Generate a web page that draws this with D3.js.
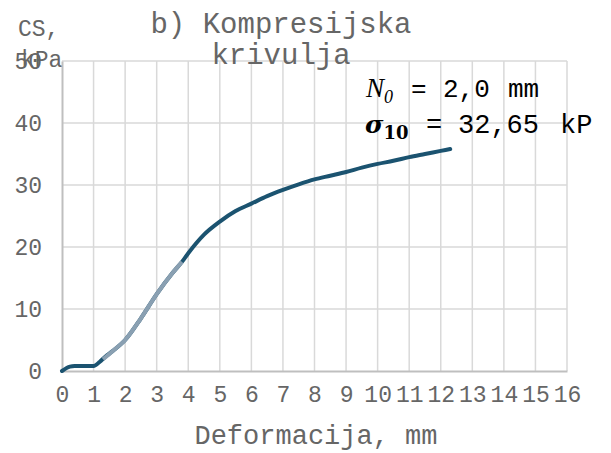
<!DOCTYPE html>
<html><head><meta charset="utf-8">
<script src="https://cdn.jsdelivr.net/npm/d3@7"></script>
<style>
body{margin:0;background:#fff;}
svg{display:block;}
</style></head>
<body>
<svg id="c" width="611" height="453"></svg>
<script>
// Data
const curveX = [0,0.25,0.4,1.0,1.2,1.37,1.6,2.0,2.5,3.0,3.5,3.8,4.0,4.5,5,5.5,6,6.5,7,7.5,8,8.5,9,9.5,10,10.5,11,11.5,12,12.3];
const curveY = [0,0.7,0.8,0.8,1.5,2.3,3.2,5.0,8.5,12.4,15.8,17.6,19.0,22.0,24.1,25.8,27.0,28.2,29.2,30.1,30.9,31.5,32.1,32.8,33.4,33.9,34.5,35.0,35.5,35.8];
const segX = [1.3,1.6,2.0,2.5,3.0,3.5,3.8];
const segY = [1.9,3.2,5.0,8.5,12.4,15.8,17.6];
const xTicks = [0,1,2,3,4,5,6,7,8,9,10,11,12,13,14,15,16];
const yTicks = [0,10,20,30,40,50];
const titleLines = ["b) Kompresijska","krivulja"];
const xTitle = "Deformacija, mm";
const yTitleLines = ["CS,","kPa"];

const svg = d3.select("#c");
const L=62,R=567,T=61,B=371;
const x = d3.scaleLinear().domain([0,16]).range([L,R]);
const y = d3.scaleLinear().domain([0,50]).range([B,T]);
const mono = "'Liberation Mono','Courier New',monospace";
const txt = "#666666";

// grid
svg.append("g").selectAll("line").data(xTicks.filter(d=>d>0)).join("line")
  .attr("x1",d=>x(d)).attr("x2",d=>x(d)).attr("y1",T).attr("y2",B)
  .attr("stroke","#d9d9d9").attr("stroke-width",1.5);
svg.append("g").selectAll("line").data(yTicks.filter(d=>d>0)).join("line")
  .attr("x1",L).attr("x2",R).attr("y1",d=>y(d)).attr("y2",d=>y(d))
  .attr("stroke","#d9d9d9").attr("stroke-width",1.5);

// axes
const xAxis = svg.append("g").attr("transform",`translate(0,${B})`)
  .call(d3.axisBottom(x).tickValues(xTicks).tickSize(0).tickPadding(15));
const yAxis = svg.append("g").attr("transform",`translate(${L},0)`)
  .call(d3.axisLeft(y).tickValues(yTicks).tickSize(0).tickPadding(20));
[xAxis,yAxis].forEach(a=>{
  a.select(".domain").attr("stroke","#bfbfbf").attr("stroke-width",2);
  a.selectAll("text").attr("font-family",mono).attr("font-size",23).attr("fill",txt);
});

// lines
const line = d3.line().x(d=>x(d[0])).y(d=>y(d[1])).curve(d3.curveMonotoneX);
svg.append("path").datum(curveX.map((v,i)=>[v,curveY[i]]))
  .attr("d",line).attr("fill","none").attr("stroke","#1b5370").attr("stroke-width",4).attr("stroke-linecap","round");
svg.append("path").datum(segX.map((v,i)=>[v,segY[i]]))
  .attr("d",line).attr("fill","none").attr("stroke","#8aa0b2").attr("stroke-width",4);

// titles
svg.append("g").selectAll("text").data(titleLines).join("text")
  .attr("x",281).attr("y",(d,i)=>33+i*31).attr("text-anchor","middle")
  .attr("font-family",mono).attr("font-size",29).attr("fill",txt).text(d=>d);
svg.append("text").attr("x",316).attr("y",444).attr("text-anchor","middle")
  .attr("font-family",mono).attr("font-size",27).attr("fill",txt).text(xTitle);
svg.append("g").selectAll("text").data(yTitleLines).join("text")
  .attr("x",[18,21]).attr("x",(d,i)=>i?21:18).attr("y",(d,i)=>36+i*31)
  .attr("font-family",mono).attr("font-size",23).attr("fill",txt).text(d=>d);

// annotation
const ann = svg.append("g").attr("fill","#000");
const serif = "'DejaVu Serif','Liberation Serif',serif";
ann.append("text").attr("x",366).attr("y",97).attr("font-family","'Liberation Serif',serif")
  .attr("font-style","italic").attr("font-size",27).text("N")
  .append("tspan").attr("font-size",18).attr("dy",6).text("0");
ann.append("text").attr("x",411).attr("y",97).attr("font-family",mono).attr("font-size",26).text("=");
ann.append("text").attr("x",443).attr("y",97).attr("font-family",mono).attr("font-size",26).text("2,0");
ann.append("text").attr("x",508).attr("y",97).attr("font-family",mono).attr("font-size",26).text("mm");
ann.append("text").attr("x",365).attr("y",133).attr("font-family",serif)
  .attr("font-style","italic").attr("font-weight","bold").attr("font-size",25).text("σ")
  .append("tspan").attr("font-style","normal").attr("font-size",18).attr("dy",6).text("10");
ann.append("text").attr("x",426).attr("y",133).attr("font-family",mono).attr("font-size",27).text("=");
ann.append("text").attr("x",458).attr("y",133).attr("font-family",mono).attr("font-size",27).text("32,65");
ann.append("text").attr("x",560).attr("y",133).attr("font-family",mono).attr("font-size",27).text("kP");
</script>
</body></html>
